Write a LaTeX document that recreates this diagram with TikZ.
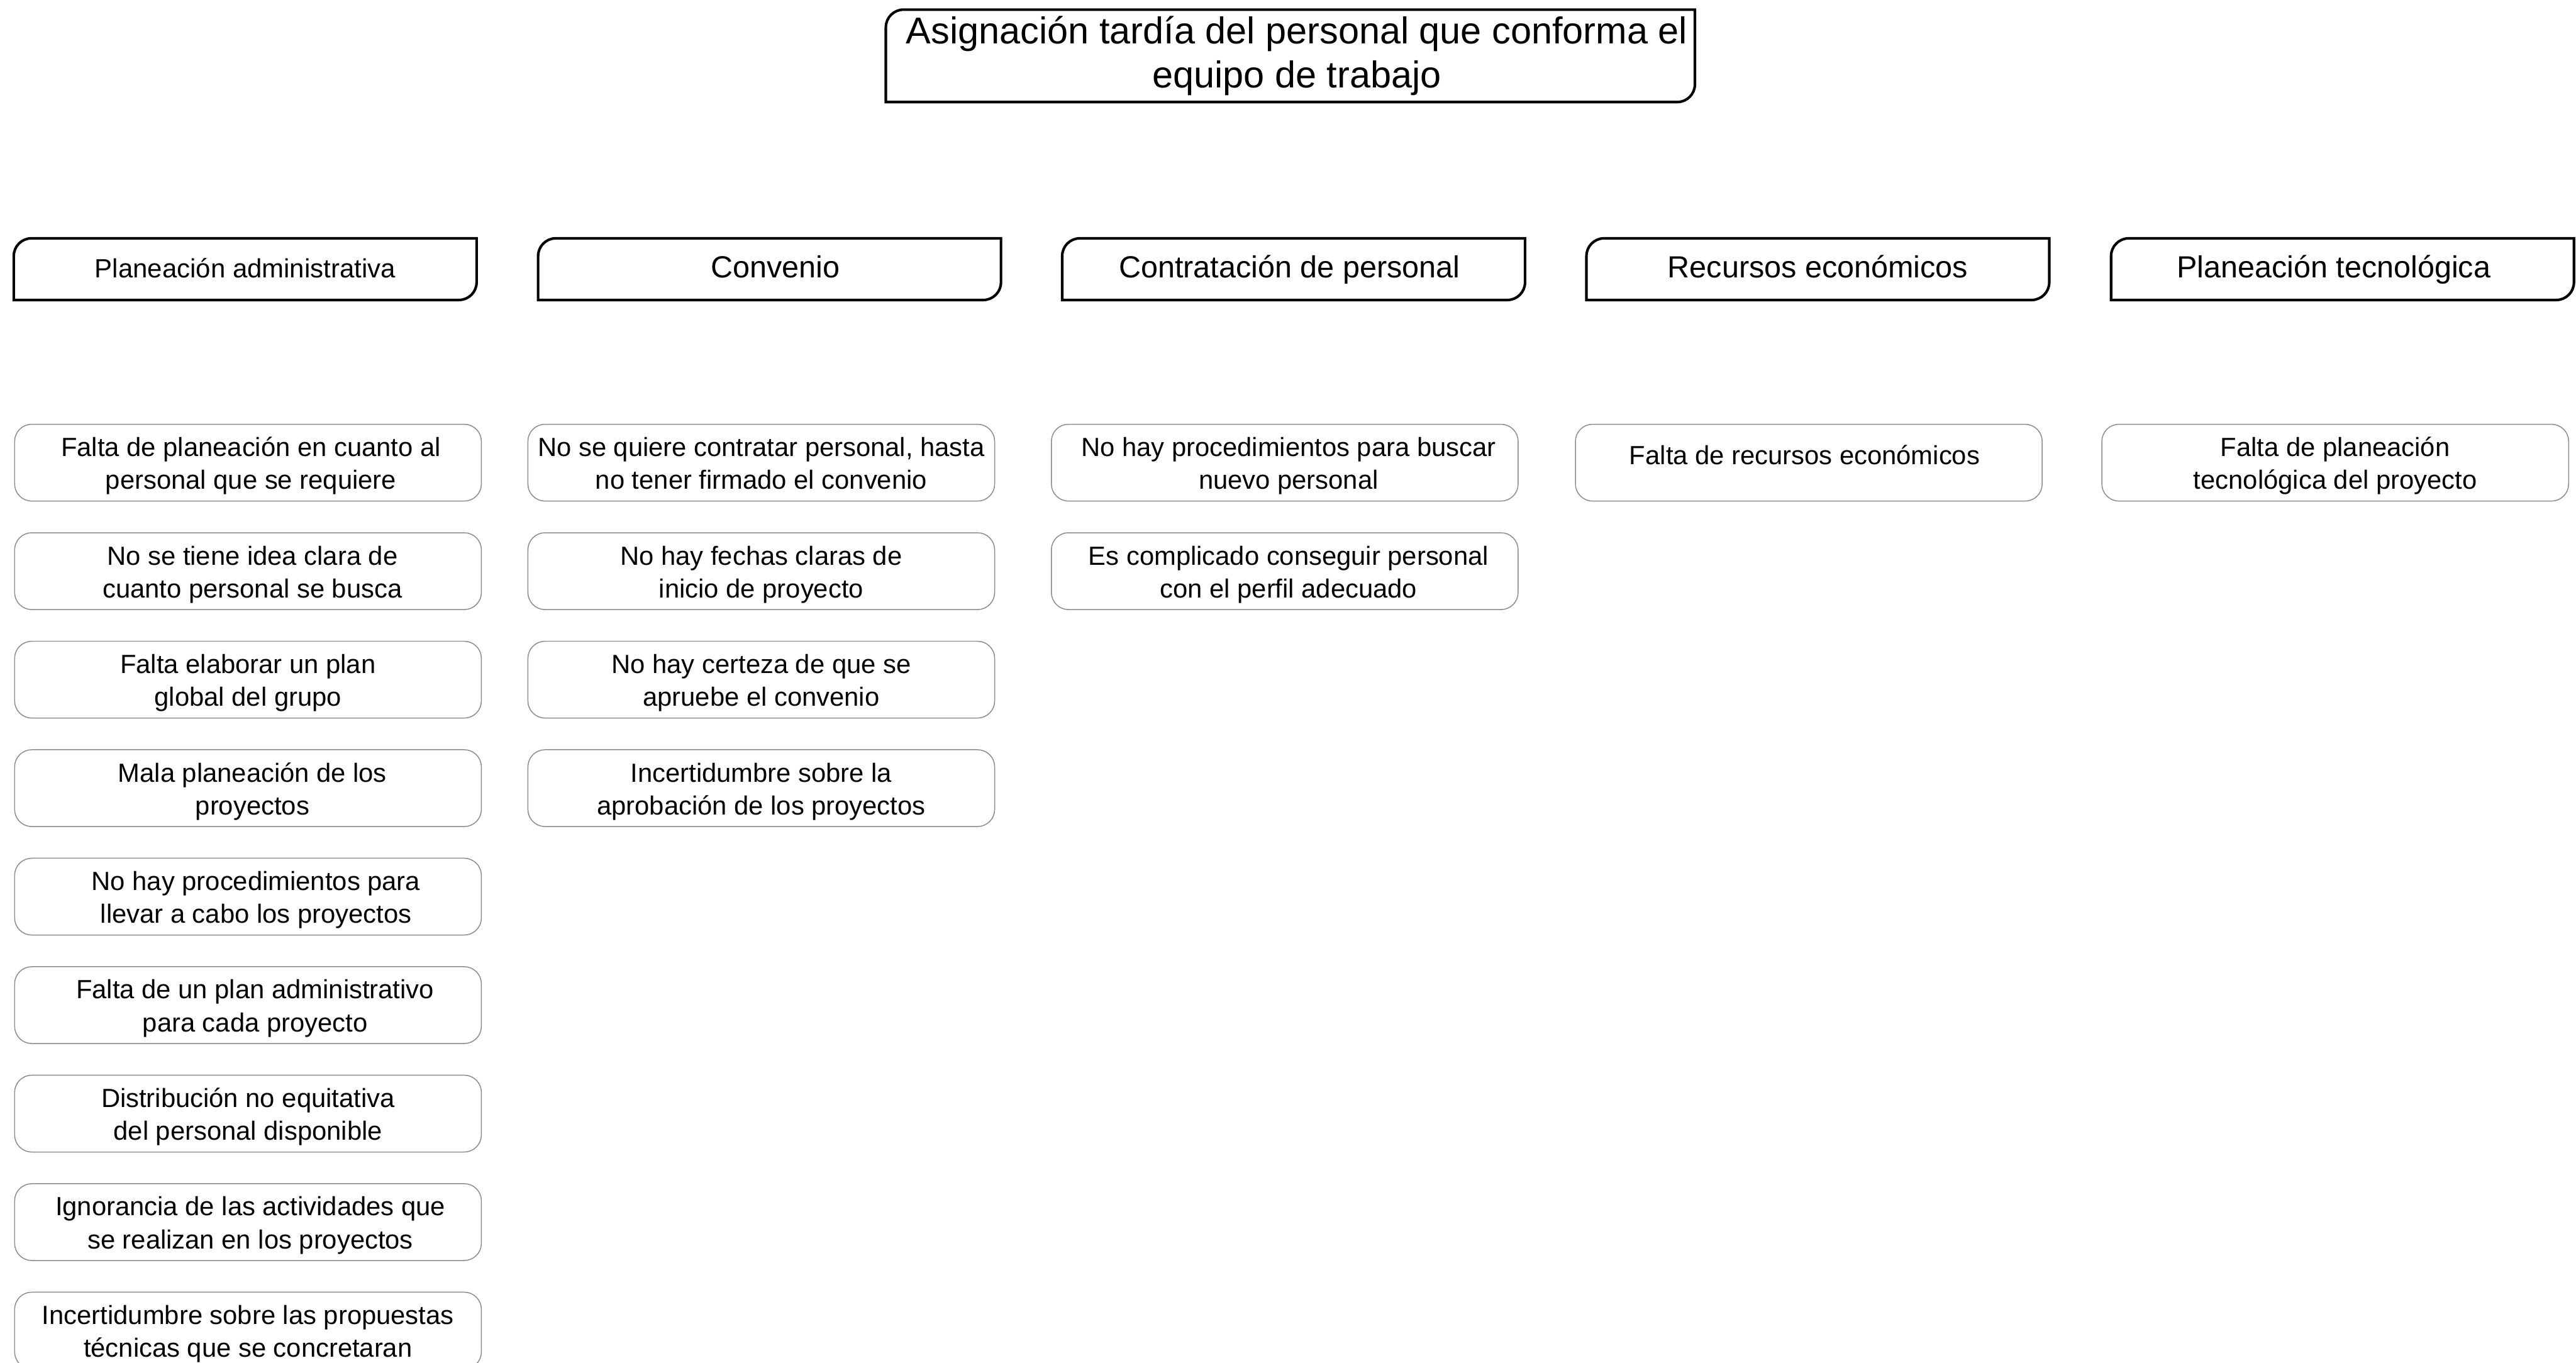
\documentclass[tikz,border=0pt]{standalone}
\usepackage{fontspec}
\setmainfont{Liberation Sans}
% category labels: invisible rule fixing the line's height and depth
\newcommand\cathi{\rule[-4.3pt]{0pt}{17pt}}
% cause labels: centred stack of lines, shifted so the lines sit mid-box
\newcommand\leaf[2][-4.7pt]{\raisebox{#1}[0pt][0pt]{\begin{tabular}{@{}c@{}}#2\end{tabular}}}
\begin{document}
\begin{tikzpicture}[x=1cm,y=1cm,
  frame/.style={draw=none,inner sep=0pt,align=center},
  headbox/.style={frame,minimum width=13.68cm,minimum height=1.55cm,font=\fontsize{18}{21.3}\selectfont},
  catbox/.style={frame,minimum width=7.82cm,minimum height=1.03cm,font=\fontsize{14.7}{17}\selectfont,
    execute at begin node=\cathi},
  causebox/.style={draw=black!45,line width=0.45pt,rounded corners=0.29cm,inner sep=0pt,
    minimum width=7.9cm,minimum height=1.30cm,font=\fontsize{12.65}{15.8}\selectfont},
  boxline/.style={draw=black,line width=1.25pt}]
\clip (0,0) rectangle (43.6,-23.06);
\fill[white] (0,0) rectangle (43.6,-23.06);
\def\boxrad{0.3cm}
% box with rounded top-left and bottom-right corners
\newcommand\slantbox[1]{\draw[boxline] (#1.south west) -- ([yshift=-\boxrad]#1.north west)
  arc[start angle=180,end angle=90,radius=\boxrad] -- (#1.north east)
  -- ([yshift=\boxrad]#1.south east) arc[start angle=0,end angle=-90,radius=\boxrad] -- cycle;}
\newcommand\pad[1]{\hspace*{#1}}

% main problem
\node[headbox] (top) at (21.84,-0.945) {\pad{0.22cm}Asignación tardía del personal que conforma el\\\pad{0.22cm}equipo de trabajo};
\slantbox{top}

% categories
\node[catbox,font=\fontsize{12.7}{15}\selectfont] (c1) at (4.15,-4.555) {Planeación administrativa};
\node[catbox] (c2) at (13.025,-4.555) {\pad{0.2cm}Convenio};
\node[catbox] (c3) at (21.895,-4.555) {Contratación de personal\pad{0.14cm}};
\node[catbox] (c4) at (30.768,-4.555) {Recursos económicos};
\node[catbox] (c5) at (39.648,-4.555) {Planeación tecnológica\pad{0.3cm}};
\foreach \n in {c1,c2,c3,c4,c5}{\slantbox{\n}}

% causes: administrative planning
\node[causebox] (a1) at (4.1975,-7.83) {\leaf{\pad{0.1cm}Falta de planeación en cuanto al\\\pad{0.1cm}personal que se requiere}};
\node[causebox] (a2) at (4.1975,-9.666) {\leaf{\pad{0.15cm}No se tiene idea clara de\\\pad{0.15cm}cuanto personal se busca}};
\node[causebox] (a3) at (4.1975,-11.502) {\leaf{Falta elaborar un plan\\global del grupo}};
\node[causebox] (a4) at (4.1975,-13.338) {\leaf{\pad{0.15cm}Mala planeación de los\\\pad{0.15cm}proyectos}};
\node[causebox] (a5) at (4.1975,-15.174) {\leaf{\pad{0.27cm}No hay procedimientos para\\\pad{0.27cm}llevar a cabo los proyectos}};
\node[causebox] (a6) at (4.1975,-17.01) {\leaf{\pad{0.24cm}Falta de un plan administrativo\\\pad{0.24cm}para cada proyecto}};
\node[causebox] (a7) at (4.1975,-18.846) {\leaf{Distribución no equitativa\\del personal disponible}};
\node[causebox] (a8) at (4.1975,-20.682) {\leaf{\pad{0.08cm}Ignorancia de las actividades que\\\pad{0.08cm}se realizan en los proyectos}};
\node[causebox] (a9) at (4.1975,-22.518) {\leaf{Incertidumbre sobre las propuestas\\técnicas que se concretaran}};

% causes: agreement
\node[causebox] (b1) at (12.885,-7.83) {\leaf{No se quiere contratar personal, hasta\\no tener firmado el convenio}};
\node[causebox] (b2) at (12.885,-9.666) {\leaf{No hay fechas claras de\\inicio de proyecto}};
\node[causebox] (b3) at (12.885,-11.502) {\leaf{No hay certeza de que se\\apruebe el convenio}};
\node[causebox] (b4) at (12.885,-13.338) {\leaf{Incertidumbre sobre la\\aprobación de los proyectos}};

% causes: hiring
\node[causebox] (d1) at (21.745,-7.83) {\leaf{\pad{0.13cm}No hay procedimientos para buscar\\\pad{0.13cm}nuevo personal}};
\node[causebox] (d2) at (21.745,-9.666) {\leaf{\pad{0.13cm}Es complicado conseguir personal\\\pad{0.13cm}con el perfil adecuado}};

% causes: funding
\node[causebox] (e1) at (30.615,-7.83) {\leaf[-0.8pt]{Falta de recursos económicos\pad{0.14cm}}};

% causes: technology planning
\node[causebox] (f1) at (39.525,-7.83) {\leaf{Falta de planeación\\tecnológica del proyecto}};
\end{tikzpicture}
\end{document}
